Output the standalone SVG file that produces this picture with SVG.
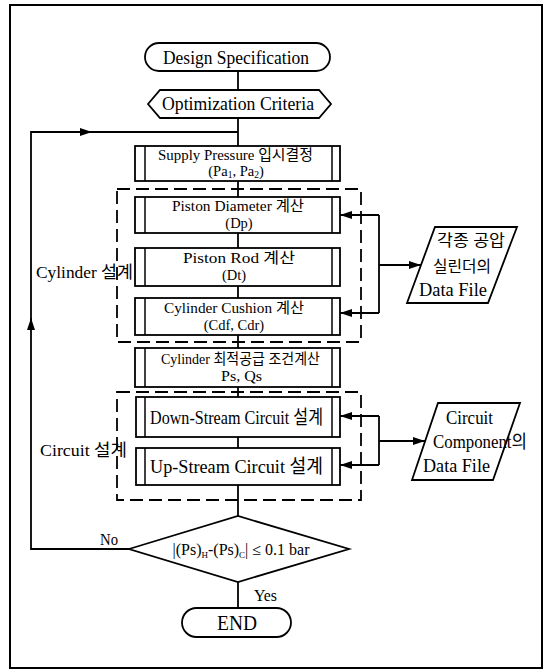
<svg xmlns="http://www.w3.org/2000/svg" width="551" height="672" viewBox="0 0 551 672">
<style>
text{font-family:"Liberation Serif","Noto Sans CJK KR",serif;fill:#000;}
.t{font-size:14.5px;text-anchor:middle;}
.big{font-size:19px;text-anchor:middle;}
.lbl{font-size:17px;}
.box{fill:#fff;stroke:#000;stroke-width:1.8;}
.bar{stroke:#000;stroke-width:1.5;}
.dash{fill:none;stroke:#000;stroke-width:1.8;stroke-dasharray:13 6;}
.ln{fill:none;stroke:#000;stroke-width:1.8;}
.ar{fill:none;stroke:#000;stroke-width:1.8;marker-end:url(#ah);}
.frame{fill:none;stroke:#000;stroke-width:2;}
</style>
<defs>
<marker id="ah" markerUnits="userSpaceOnUse" markerWidth="12" markerHeight="8" refX="12" refY="4" orient="auto">
<path d="M0,0 L12,4 L0,8 z" fill="#000"/>
</marker>
</defs>
<rect class="frame" x="10" y="5" width="532" height="663"/>

<g id="connectors">
<line class="ln" x1="238" y1="71" x2="238" y2="90"/>
<line class="ln" x1="238" y1="118" x2="238" y2="146"/>
<line class="ln" x1="238" y1="181" x2="238" y2="197"/>
<line class="ln" x1="238" y1="233" x2="238" y2="248"/>
<line class="ln" x1="238" y1="286" x2="238" y2="298"/>
<line class="ln" x1="238" y1="335" x2="238" y2="348"/>
<line class="ln" x1="238" y1="387" x2="238" y2="397"/>
<line class="ln" x1="238" y1="437" x2="238" y2="448"/>
<line class="ln" x1="238" y1="485" x2="238" y2="516"/>
<line class="ln" x1="238" y1="582" x2="238" y2="608"/>
<path class="ar" d="M129,549 H31 V318"/>
<path class="ar" d="M31,320 V132 H92"/>
<path class="ln" d="M90,132 H238"/>
<path class="ln" d="M379,215 V313"/>
<path class="ar" d="M379,215 H340"/>
<path class="ar" d="M379,313 H340"/>
<path class="ar" d="M379,265 H421"/>
<path class="ln" d="M379,416 V465"/>
<path class="ar" d="M379,416 H340"/>
<path class="ar" d="M379,465 H340"/>
<path class="ar" d="M379,441 H425"/>
<text x="100" y="545" style="font-size:16px" textLength="18" lengthAdjust="spacingAndGlyphs">No</text>
<text x="254" y="601" style="font-size:16px" textLength="23" lengthAdjust="spacingAndGlyphs">Yes</text>
</g>

<g id="cylinder-group">
<rect class="dash" x="117" y="189" width="244" height="153"/>
<text class="lbl" x="36" y="278" textLength="97" lengthAdjust="spacingAndGlyphs">Cylinder 설계</text>
</g>
<g id="circuit-group">
<rect class="dash" x="117" y="392" width="244" height="108"/>
<text class="lbl" x="40" y="456" textLength="87" lengthAdjust="spacingAndGlyphs">Circuit 설계</text>
</g>

<g id="design-spec">
<rect class="box" x="145" y="43" width="185" height="28" rx="14"/>
<text class="big" x="236" y="64" textLength="146" lengthAdjust="spacingAndGlyphs">Design Specification</text>
</g>
<g id="opt-criteria">
<polygon class="box" points="148,104 160,90 319,90 331,104 319,118 160,118"/>
<text class="big" x="238" y="110" textLength="152" lengthAdjust="spacingAndGlyphs">Optimization Criteria</text>
</g>
<g id="supply">
<rect class="box" x="135" y="146" width="205" height="35"/>
<line class="bar" x1="145" y1="146" x2="145" y2="181"/>
<line class="bar" x1="332" y1="146" x2="332" y2="181"/>
<text class="t" x="235.5" y="160" textLength="155" lengthAdjust="spacingAndGlyphs">Supply Pressure 입시결정</text>
<text class="t" x="236" y="176">(Pa<tspan dy="2" style="font-size:9.5px">1</tspan><tspan dy="-2">, Pa</tspan><tspan dy="2" style="font-size:9.5px">2</tspan><tspan dy="-2">)</tspan></text>
</g>
<g id="piston-diameter">
<rect class="box" x="135" y="197" width="205" height="36"/>
<line class="bar" x1="145" y1="197" x2="145" y2="233"/>
<line class="bar" x1="332" y1="197" x2="332" y2="233"/>
<text class="t" x="238" y="211" textLength="132" lengthAdjust="spacingAndGlyphs">Piston Diameter 계산</text>
<text class="t" x="239" y="228">(Dp)</text>
</g>
<g id="piston-rod">
<rect class="box" x="135" y="248" width="205" height="38"/>
<line class="bar" x1="145" y1="248" x2="145" y2="286"/>
<line class="bar" x1="332" y1="248" x2="332" y2="286"/>
<text class="t" x="239" y="263" textLength="112" lengthAdjust="spacingAndGlyphs">Piston Rod 계산</text>
<text class="t" x="234" y="280">(Dt)</text>
</g>
<g id="cylinder-cushion">
<rect class="box" x="135" y="298" width="205" height="37"/>
<line class="bar" x1="145" y1="298" x2="145" y2="335"/>
<line class="bar" x1="332" y1="298" x2="332" y2="335"/>
<text class="t" x="234" y="313" textLength="140" lengthAdjust="spacingAndGlyphs">Cylinder Cushion 계산</text>
<text class="t" x="234" y="330">(Cdf, Cdr)</text>
</g>
<g id="cylinder-supply">
<rect class="box" x="135" y="348" width="205" height="39"/>
<line class="bar" x1="145" y1="348" x2="145" y2="387"/>
<line class="bar" x1="332" y1="348" x2="332" y2="387"/>
<text class="t" x="240.5" y="364" textLength="159" lengthAdjust="spacingAndGlyphs">Cylinder 최적공급 조건계산</text>
<text class="t" x="241.5" y="381" textLength="41" lengthAdjust="spacingAndGlyphs">Ps, Qs</text>
</g>
<g id="down-stream">
<rect class="box" x="136" y="397" width="204" height="40"/>
<line class="bar" x1="145" y1="397" x2="145" y2="437"/>
<line class="bar" x1="332" y1="397" x2="332" y2="437"/>
<text class="big" x="236.5" y="424" textLength="173" lengthAdjust="spacingAndGlyphs">Down-Stream Circuit 설계</text>
</g>
<g id="up-stream">
<rect class="box" x="136" y="448" width="204" height="37"/>
<line class="bar" x1="145" y1="448" x2="145" y2="485"/>
<line class="bar" x1="332" y1="448" x2="332" y2="485"/>
<text class="big" x="236.5" y="473" textLength="173" lengthAdjust="spacingAndGlyphs">Up-Stream Circuit 설계</text>
</g>
<g id="cylinder-file">
<polygon class="box" points="435,227 517,227 488,303 407,303"/>
<text x="471" y="246" style="font-size:16px;text-anchor:middle" textLength="68" lengthAdjust="spacingAndGlyphs">각종 공압</text>
<text x="462" y="272" style="font-size:16px;text-anchor:middle" textLength="58" lengthAdjust="spacingAndGlyphs">실린더의</text>
<text x="453" y="296" style="font-size:18px;text-anchor:middle" textLength="68" lengthAdjust="spacingAndGlyphs">Data File</text>
</g>
<g id="circuit-file">
<polygon class="box" points="438,403 520,403 493,480 412,480"/>
<text x="469.5" y="424" style="font-size:18px;text-anchor:middle" textLength="47" lengthAdjust="spacingAndGlyphs">Circuit</text>
<text x="480" y="448" style="font-size:18px;text-anchor:middle" textLength="94" lengthAdjust="spacingAndGlyphs">Component의</text>
<text x="456.5" y="472" style="font-size:18px;text-anchor:middle" textLength="67" lengthAdjust="spacingAndGlyphs">Data File</text>
</g>
<g id="decision">
<polygon class="box" points="129,549 238,516 349,549 238,582"/>
<text x="241" y="555" style="font-size:16px;text-anchor:middle">|(Ps)<tspan dy="3" style="font-size:9px">H</tspan><tspan dy="-3">-(Ps)</tspan><tspan dy="3" style="font-size:9px">C</tspan><tspan dy="-3">| ≤ 0.1 bar</tspan></text>
</g>
<g id="end">
<rect class="box" x="182" y="608" width="109" height="29" rx="14.5"/>
<text x="237" y="630" style="font-size:21px;text-anchor:middle" textLength="40" lengthAdjust="spacingAndGlyphs">END</text>
</g>
</svg>
